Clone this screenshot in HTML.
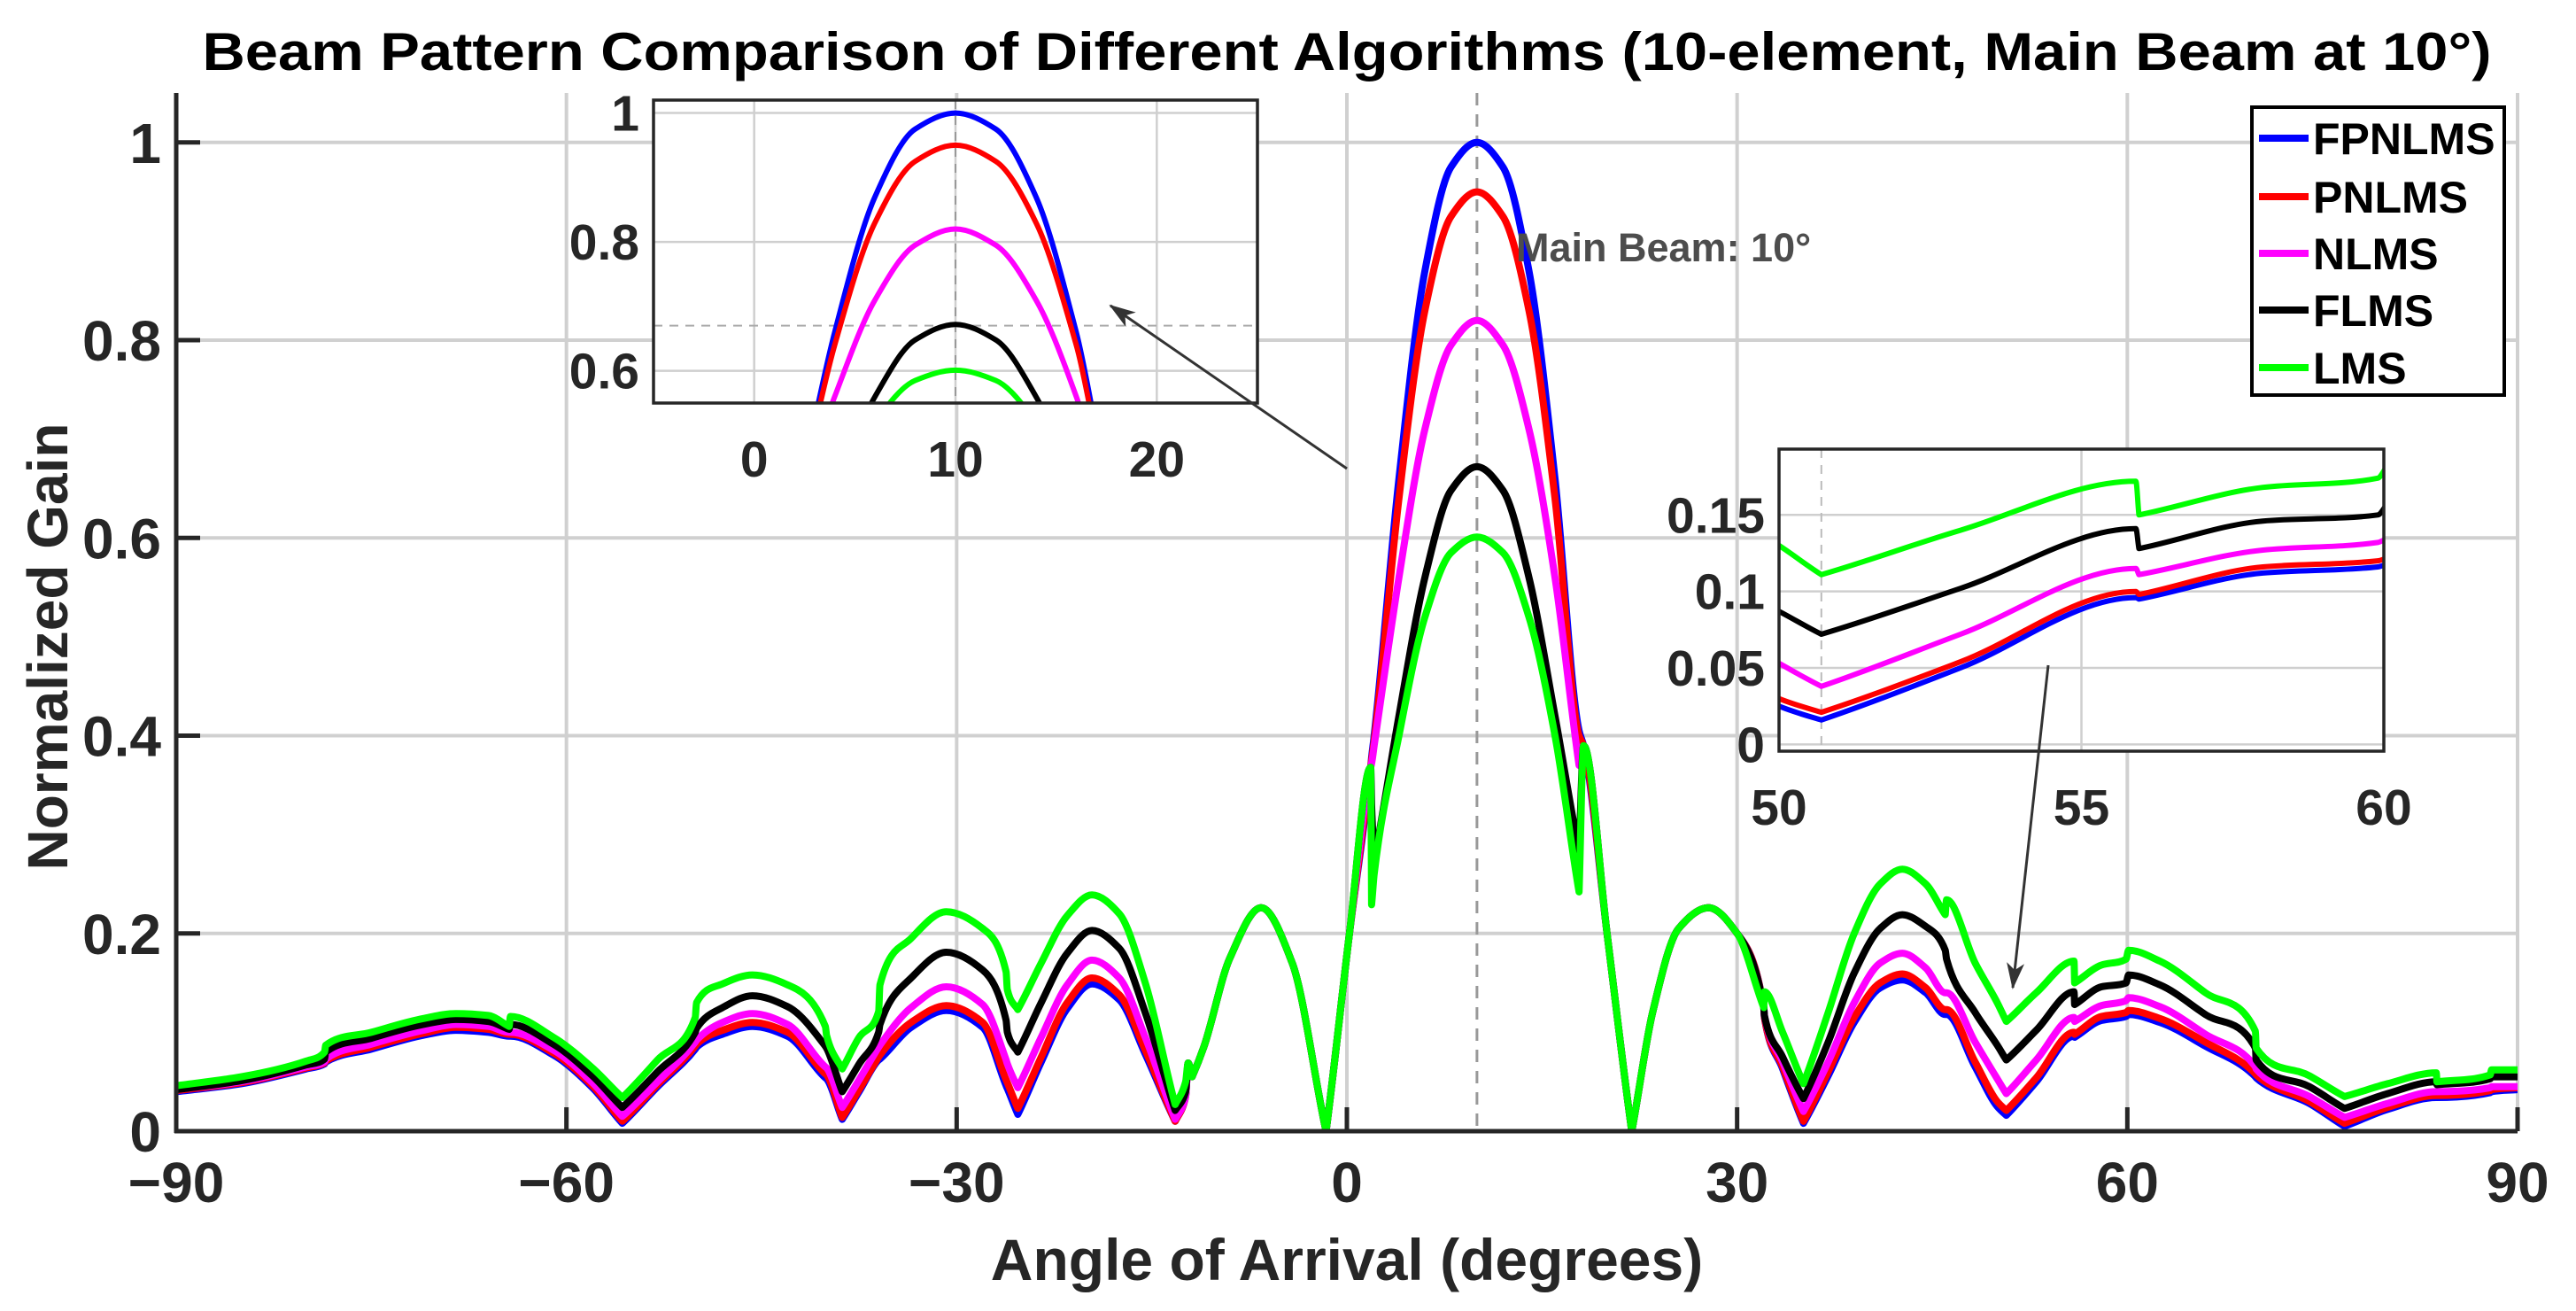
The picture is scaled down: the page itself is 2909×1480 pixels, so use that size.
<!DOCTYPE html>
<html><head><meta charset="utf-8">
<style>
html,body{margin:0;padding:0;background:#fff;}
svg{display:block;font-family:"Liberation Sans",Arial,sans-serif;font-weight:bold;}
</style></head>
<body>
<svg id="chart" width="2909" height="1480" viewBox="0 0 2909 1480" xmlns="http://www.w3.org/2000/svg">
<defs>
<marker id="arrowhead" markerWidth="30" markerHeight="30" refX="28" refY="10" orient="auto" markerUnits="userSpaceOnUse" viewBox="0 0 30 20">
<path d="M0,0 L30,10 L0,20 L8,10 Z" fill="#333"/>
</marker>
<clipPath id="clip-main"><rect x="199" y="105" width="2644" height="1172"/></clipPath>
<clipPath id="clip-in1"><rect x="738" y="113" width="682" height="342"/></clipPath>
<clipPath id="clip-in2"><rect x="2009" y="507" width="683" height="341"/></clipPath>
</defs>
<text x="1521" y="79" text-anchor="middle" font-size="60" fill="#000" textLength="2585" lengthAdjust="spacingAndGlyphs">Beam Pattern Comparison of Different Algorithms (10-element, Main Beam at 10°)</text>
<g id="main-grid"></g>
<g id="main-series" clip-path="url(#clip-main)"></g>
<g id="main-axes"></g>
<text transform="translate(76,730) rotate(-90)" text-anchor="middle" font-size="64" fill="#262626">Normalized Gain</text>
<text x="1521" y="1445" text-anchor="middle" font-size="66" fill="#262626">Angle of Arrival (degrees)</text>
<text x="1712" y="295" font-size="45" fill="#4d4d4d">Main Beam: 10°</text>
<g id="inset1"></g>
<g id="inset2"></g>
<line x1="1521" y1="529" x2="1254" y2="345" stroke="#333" stroke-width="3" marker-end="url(#arrowhead)"/>
<line x1="2313" y1="751" x2="2273" y2="1115" stroke="#333" stroke-width="3" marker-end="url(#arrowhead)"/>
<g id="legend"></g>
</svg>
<script>
const angles=[-90,-85,-80,-78.6,-78.5,-75,-71,-68.5,-66,-64.4,-64.3,-61,-58,-55.7,-53,-50.1,-50,-48,-45.7,-43,-40.1,-40,-38.8,-37.5,-36,-35.9,-33.5,-30.8,-28,-26.2,-26.1,-25.3,-23.5,-21.5,-19.6,-17.5,-15.5,-13.2,-12.4,-12.2,-11.9,-11,-9,-6.6,-4.2,-1.6,0.2,1.83,1.9,2.1,4,6,8,10,12,14,16,17.85,18.2,20,21.9,23.5,25.5,27.8,30,32.05,32.1,33.5,35.1,37,39,41,42.7,44.5,46.0,46.1,48.3,50.0,50.7,53,55.9,55.95,58,59.9,60.1,62.5,66,69.85,69.9,74,76.7,80,83.75,83.8,87.9,88,90];
const lms=[.046,.055,.071,.080,.087,.100,.114,.119,.117,.106,.116,.095,.064,.034,.072,.115,.130,.149,.158,.148,.106,.097,.063,.095,.121,.148,.195,.222,.205,.161,.143,.123,.170,.218,.239,.220,.150,.027,.050,.069,.055,.085,.175,.226,.170,.000,.200,.368,.229,.260,.400,.520,.585,.601,.585,.520,.400,.242,.390,.200,.000,.120,.205,.226,.200,.125,.141,.100,.048,.120,.200,.250,.265,.250,.219,.234,.170,.130,.111,.140,.172,.150,.168,.174,.183,.172,.140,.101,.084,.056,.035,.048,.059,.050,.057,.062,.062];
const flms=[.042,.051,.067,.073,.080,.094,.108,.113,.111,.103,.108,.088,.056,.024,.060,.100,.104,.125,.137,.126,.086,.084,.040,.068,.100,.108,.155,.181,.163,.112,.100,.080,.130,.180,.203,.185,.120,.021,.040,.069,.055,.085,.175,.226,.170,.000,.200,.368,.330,.273,.420,.560,.648,.672,.648,.560,.420,.283,.390,.200,.000,.120,.205,.226,.200,.125,.117,.075,.033,.090,.160,.205,.219,.207,.183,.174,.120,.087,.072,.102,.141,.128,.146,.150,.158,.148,.118,.084,.072,.045,.023,.038,.050,.047,.053,.055,.055];
const nlms=[.042,.050,.065,.070,.073,.088,.102,.108,.106,.100,.100,.082,.049,.015,.050,.090,.092,.110,.119,.108,.065,.064,.024,.052,.085,.087,.125,.146,.128,.072,.068,.044,.095,.148,.173,.155,.095,.012,.035,.069,.055,.085,.175,.226,.170,.000,.200,.368,.372,.390,.560,.710,.795,.820,.795,.710,.560,.370,.390,.200,.000,.120,.205,.226,.200,.125,.117,.070,.020,.070,.130,.170,.180,.165,.140,.140,.090,.053,.038,.072,.115,.111,.127,.132,.135,.126,.098,.065,.063,.035,.014,.028,.040,.040,.044,.045,.045];
const pnlms=[.041,.049,.064,.069,.071,.085,.099,.105,.103,.098,.098,.079,.046,.010,.047,.086,.088,.102,.110,.100,.058,.057,.014,.042,.075,.077,.110,.127,.110,.052,.049,.023,.075,.130,.155,.138,.082,.010,.035,.069,.055,.085,.175,.226,.170,.000,.200,.368,.375,.395,.640,.830,.925,.950,.925,.830,.640,.400,.390,.200,.000,.120,.205,.226,.200,.125,.115,.065,.010,.060,.115,.150,.159,.145,.123,.123,.070,.030,.021,.054,.100,.098,.116,.120,.122,.114,.090,.058,.057,.030,.008,.024,.036,.036,.041,.042,.044];
const fpnlms=[.040,.048,.063,.068,.070,.083,.097,.102,.100,.096,.096,.077,.044,.008,.045,.083,.085,.098,.106,.096,.054,.053,.012,.040,.072,.073,.105,.122,.105,.046,.043,.017,.070,.124,.149,.133,.078,.010,.035,.069,.055,.085,.175,.226,.170,.000,.200,.368,.378,.400,.660,.870,.975,1.000,.975,.870,.660,.405,.390,.200,.000,.120,.205,.226,.200,.125,.115,.063,.008,.056,.110,.145,.153,.140,.118,.118,.065,.025,.016,.050,.096,.095,.112,.116,.118,.110,.086,.055,.054,.028,.005,.022,.034,.034,.039,.040,.042];
const seriesNames=["FPNLMS","PNLMS","NLMS","FLMS","LMS"];
const seriesColors=["#0000ff","#ff0000","#ff00ff","#000000","#00ff00"];
const seriesValues=[fpnlms,pnlms,nlms,flms,lms];
const xTicks=[-90,-60,-30,0,30,60,90];
const xTickLabels=["\u221290","\u221260","\u221230","0","30","60","90"];
const yTicks=[0,0.2,0.4,0.6,0.8,1];
const yTickLabels=["0","0.2","0.4","0.6","0.8","1"];
const in1XTicks=[0,10,20];
const in1YTicks=[0.6,0.8,1];
const in1YTickLabels=["0.6","0.8","1"];
const in2XTicks=[50,55,60];
const in2YTicks=[0,0.05,0.1,0.15];
const in2YTickLabels=["0","0.05","0.1","0.15"];

const NS="http://www.w3.org/2000/svg";
function mk(tag,attrs,parent){const e=document.createElementNS(NS,tag);for(const k in attrs)e.setAttribute(k,attrs[k]);parent.appendChild(e);return e;}
function scale(d0,d1,r0,r1){return v=>r0+(v-d0)/(d1-d0)*(r1-r0);}

// monotone cubic with sharp corners at local minima (nulls)
function pathFor(xs,ys,Xf,Yf){
 const n=xs.length, d=[], mL=new Array(n), mR=new Array(n);
 for(let i=0;i<n-1;i++) d.push((ys[i+1]-ys[i])/(xs[i+1]-xs[i]));
 mL[0]=mR[0]=d[0]; mL[n-1]=mR[n-1]=d[n-2];
 for(let i=1;i<n-1;i++){
  if(d[i-1]<0 && d[i]>0){ mL[i]=d[i-1]*0.9; mR[i]=d[i]*0.9; }
  else if(d[i-1]*d[i]<=0){ mL[i]=mR[i]=0; }
  else { const w1=2*(xs[i+1]-xs[i])+(xs[i]-xs[i-1]), w2=(xs[i+1]-xs[i])+2*(xs[i]-xs[i-1]); mL[i]=mR[i]=(w1+w2)/(w1/d[i-1]+w2/d[i]); }
 }
 let p='M'+Xf(xs[0]).toFixed(1)+','+Yf(ys[0]).toFixed(1);
 for(let i=0;i<n-1;i++){
  const h=xs[i+1]-xs[i];
  const c1x=xs[i]+h/3, c1y=ys[i]+mR[i]*h/3, c2x=xs[i+1]-h/3, c2y=ys[i+1]-mL[i+1]*h/3;
  p+='C'+Xf(c1x).toFixed(1)+','+Yf(c1y).toFixed(1)+' '+Xf(c2x).toFixed(1)+','+Yf(c2y).toFixed(1)+' '+Xf(xs[i+1]).toFixed(1)+','+Yf(ys[i+1]).toFixed(1);
 }
 return p;
}

// main axes
const X=scale(-90,90,199,2843), Y=scale(0,1.05,1277,105);
const gGrid=document.getElementById('main-grid');
xTicks.forEach(t=>{const l=mk('line',{x1:X(t),x2:X(t),y1:105,y2:1277,stroke:'#d0d0d0','stroke-width':4},gGrid);

});
yTicks.forEach(t=>{const l=mk('line',{x1:199,x2:2843,y1:Y(t),y2:Y(t),stroke:'#d0d0d0','stroke-width':4},gGrid);

});
const ref=mk('line',{x1:X(10),x2:X(10),y1:105,y2:1277,stroke:'#999','stroke-width':3,'stroke-dasharray':'14 10'},gGrid);



const gS=document.getElementById('main-series');
seriesValues.forEach((vals,i)=>{const p=mk('path',{d:pathFor(angles,vals,X,Y),fill:'none',stroke:seriesColors[i],'stroke-width':8,'stroke-linejoin':'round','stroke-linecap':'round'},gS);

});

const gA=document.getElementById('main-axes');
mk('line',{x1:199,x2:199,y1:105,y2:1279,stroke:'#262626','stroke-width':5},gA);
mk('line',{x1:197,x2:2843,y1:1277,y2:1277,stroke:'#262626','stroke-width':5},gA);
xTicks.forEach((t,i)=>{mk('line',{x1:X(t),x2:X(t),y1:1277,y2:1250,stroke:'#262626','stroke-width':5},gA);
const tx=mk('text',{x:X(t),y:1357,'text-anchor':'middle','font-size':64,fill:'#262626'},gA);tx.textContent=xTickLabels[i];

});
yTicks.forEach((t,i)=>{mk('line',{x1:199,x2:226,y1:Y(t),y2:Y(t),stroke:'#262626','stroke-width':5},gA);
const tx=mk('text',{x:182,y:Y(t)+23,'text-anchor':'end','font-size':64,fill:'#262626'},gA);tx.textContent=yTickLabels[i];

});

// inset helper
function inset(gid,clip,box,xr,yr,xt,yt,ytl,extra,lw){
 const g=document.getElementById(gid);
 const Xi=scale(xr[0],xr[1],box[0],box[2]), Yi=scale(yr[0],yr[1],box[3],box[1]);
 mk('rect',{x:box[0],y:box[1],width:box[2]-box[0],height:box[3]-box[1],fill:'#fff'},g);
 xt.forEach(t=>mk('line',{x1:Xi(t),x2:Xi(t),y1:box[1],y2:box[3],stroke:'#cfcfcf','stroke-width':2.5},g));
 yt.forEach(t=>mk('line',{x1:box[0],x2:box[2],y1:Yi(t),y2:Yi(t),stroke:'#cfcfcf','stroke-width':2.5},g));
 extra(g,Xi,Yi);
 const gs=mk('g',{'clip-path':'url(#'+clip+')'},g);
 seriesValues.forEach((vals,i)=>{const p=mk('path',{d:pathFor(angles,vals,Xi,Yi),fill:'none',stroke:seriesColors[i],'stroke-width':lw,'stroke-linejoin':'round'},gs);
 
 });
 mk('rect',{x:box[0],y:box[1],width:box[2]-box[0],height:box[3]-box[1],fill:'none',stroke:'#262626','stroke-width':3.5},g);
 xt.forEach(t=>{const tx=mk('text',{x:Xi(t),y:box[3]+83,'text-anchor':'middle','font-size':57,fill:'#262626'},g);tx.textContent=String(t);
 
 });
 yt.forEach((t,i)=>{const tx=mk('text',{x:box[0]-16,y:Yi(t)+20,'text-anchor':'end','font-size':57,fill:'#262626'},g);tx.textContent=ytl[i];
 
 });
}
inset('inset1','clip-in1',[738,113,1420,455],[-5,25],[0.55,1.02],in1XTicks,in1YTicks,in1YTickLabels,(g,Xi,Yi)=>{
 mk('line',{x1:Xi(10),x2:Xi(10),y1:113,y2:455,stroke:'#999','stroke-width':2,'stroke-dasharray':'10 8'},g);
 mk('line',{x1:738,x2:1420,y1:Yi(0.67),y2:Yi(0.67),stroke:'#aaa','stroke-width':2,'stroke-dasharray':'10 8'},g);
},6);
inset('inset2','clip-in2',[2009,507,2692,848],[50,60],[-0.0044,0.193],in2XTicks,in2YTicks,in2YTickLabels,(g,Xi,Yi)=>{
 mk('line',{x1:Xi(50.7),x2:Xi(50.7),y1:507,y2:848,stroke:'#bbb','stroke-width':2,'stroke-dasharray':'10 8'},g);
},6);

// legend
const gL=document.getElementById('legend');
mk('rect',{x:2543,y:121,width:285,height:325,fill:'#fff',stroke:'#000','stroke-width':4},gL);
const legendY=[156,222,286,350,415];
seriesNames.forEach((n,i)=>{
 const ln=mk('line',{x1:2551,x2:2607,y1:legendY[i],y2:legendY[i],stroke:seriesColors[i],'stroke-width':8},gL);
 
 
 const t=mk('text',{x:2612,y:legendY[i]+18,'font-size':50,fill:'#000'},gL);t.textContent=n;
 
 
});
</script>
</body></html>
